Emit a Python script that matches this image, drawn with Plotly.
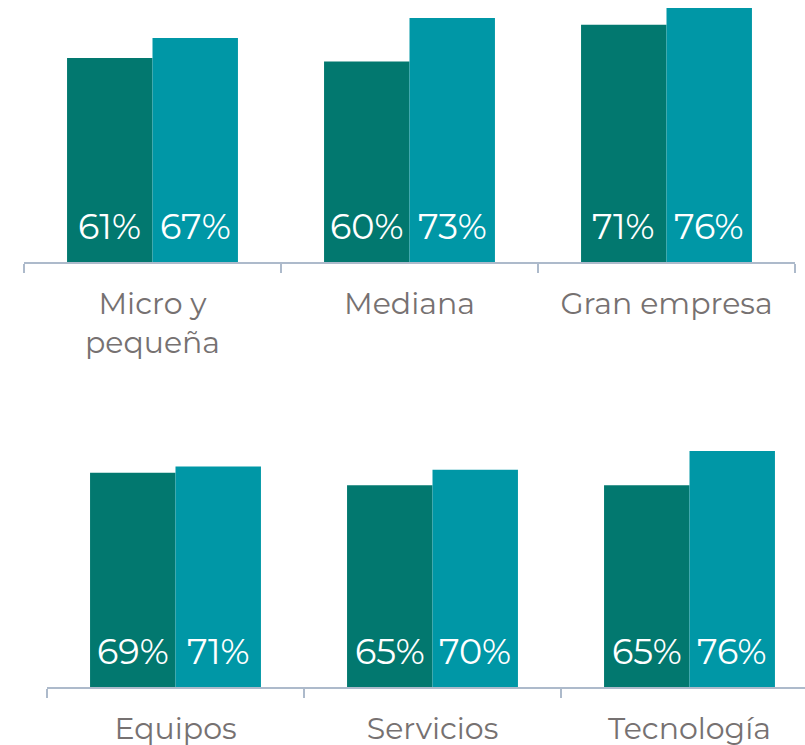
import plotly.graph_objects as go

top_categories = ["Micro y<br>pequeña", "Mediana", "Gran empresa"]
top_series_a = [61, 60, 71]
top_series_b = [67, 73, 76]

bottom_categories = ["Equipos", "Servicios", "Tecnología"]
bottom_series_a = [69, 65, 65]
bottom_series_b = [71, 70, 76]

color_a = "#02786F"
color_b = "#0097A6"
label_color = "#767171"
axis_color = "#ADBACB"
FONT = "Montserrat, Open Sans, sans-serif"

W, H = 805, 745
fig = go.Figure()

def add_group(cats, a, b, xa, ya):
    fig.add_trace(go.Bar(x=cats, y=a, marker=dict(color=color_a, line=dict(width=0)),
                         xaxis=xa, yaxis=ya, showlegend=False, hoverinfo="skip"))
    fig.add_trace(go.Bar(x=cats, y=b, marker=dict(color=color_b, line=dict(width=0)),
                         xaxis=xa, yaxis=ya, showlegend=False, hoverinfo="skip"))
    xref = "x" if xa == "x" else "x2"
    yref = "y" if ya == "y" else "y2"
    for c, va, vb in zip(cats, a, b):
        for v, sh in ((va, -42.8), (vb, 42.8)):
            fig.add_annotation(x=c, y=0, xref=xref, yref=yref, text=f"{v}%",
                               showarrow=False, xshift=sh, yanchor="bottom", yshift=12,
                               font=dict(family=FONT, size=35, color="white"))

add_group(top_categories, top_series_a, top_series_b, "x", "y")
add_group(bottom_categories, bottom_series_a, bottom_series_b, "x2", "y2")

axis_common = dict(showline=True, linecolor=axis_color, linewidth=2, ticks="outside",
                   tickson="boundaries", ticklen=9, tickcolor=axis_color, tickwidth=2,
                   showgrid=False, zeroline=False, fixedrange=True,
                   tickfont=dict(family=FONT, size=30, color=label_color))

fig.update_layout(
    width=W, height=H,
    margin=dict(l=0, r=0, t=0, b=0, autoexpand=False),
    paper_bgcolor="white", plot_bgcolor="white",
    barmode="group", bargap=0.335, bargroupgap=0,
    xaxis=dict(domain=[24 / W, 795 / W], anchor="y", range=[-0.5, 2.5],
               ticklabelstandoff=14, **axis_common),
    yaxis=dict(domain=[(H - 262) / H, 1.0], range=[0, 262 / 3.343], visible=False, anchor="x"),
    xaxis2=dict(domain=[47 / W, 1.0], anchor="y2", range=[-0.5, -0.5 + 758 / 257],
                ticklabelstandoff=14, **axis_common),
    yaxis2=dict(domain=[(H - 687) / H, (H - 440) / H], range=[0, 247 / 3.105], visible=False, anchor="x2"),
)

fig.write_html("out.html", config={"displayModeBar": False},
               post_script="document.body.style.margin='0px';")
